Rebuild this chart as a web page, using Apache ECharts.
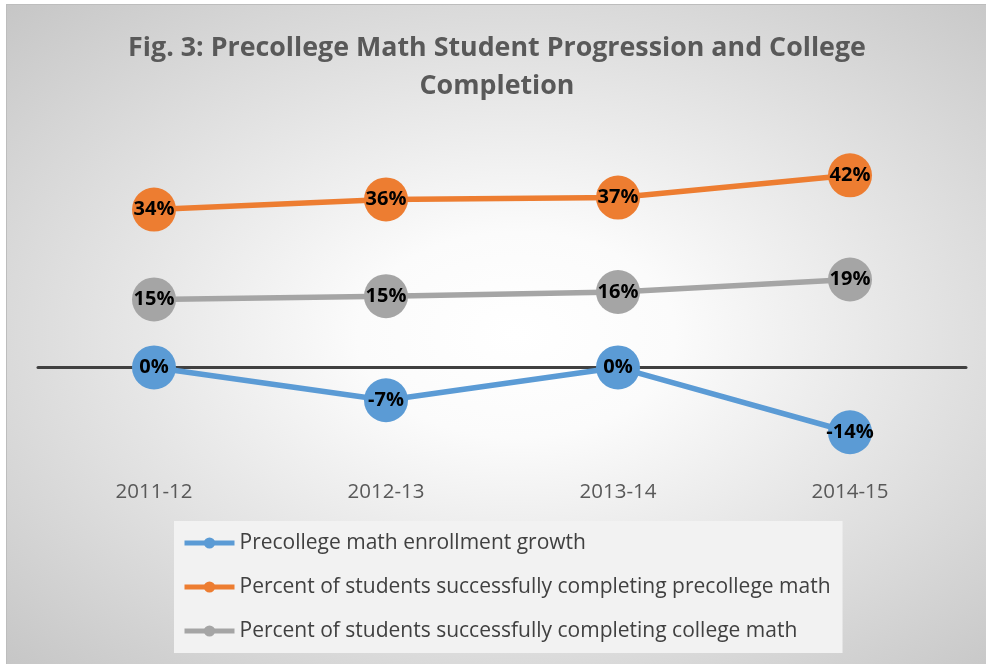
<!DOCTYPE html>
<html>
<head>
<meta charset="utf-8">
<script src="https://cdn.jsdelivr.net/npm/echarts@6/dist/echarts.min.js"></script>
<style>
  html, body { margin: 0; padding: 0; background: #fff; }
  #chart {
    position: absolute; left: 6px; top: 4px; width: 980px; height: 660px;
    border-left: 1px solid #bdbdbd; border-top: 1px solid #bdbdbd;
    background: radial-gradient(ellipse at 52% 50%, #ffffff 0%, #fbfbfb 22%, #c6c6c6 100%);
  }
</style>
</head>
<body>
<div id="chart"></div>
<script>
const years = ['2011-12', '2012-13', '2013-14', '2014-15'];
const enrollmentGrowth = [0, -7.1, 0, -14];
const precollegeComplete = [34.1, 36.3, 36.7, 41.5];
const collegeComplete = [14.7, 15.4, 16.3, 19];

const labelFont = 'Open Sans';

function lineSeries(name, data, color) {
  return {
    name,
    type: 'line',
    data,
    symbol: 'circle',
    symbolSize: 44,
    lineStyle: { color, width: 5.5 },
    itemStyle: { color },
    label: {
      show: true,
      position: 'inside',
      formatter: (p) => Math.round(p.value) + '%',
      color: '#000',
      fontFamily: labelFont,
      fontWeight: 'bold',
      fontSize: 20,
    },
  };
}

const chart = echarts.init(document.getElementById('chart'));
chart.setOption({
  backgroundColor: 'transparent',
  title: {
    text: 'Fig. 3: Precollege Math Student Progression and College\nCompletion',
    left: 'center',
    top: 24,
    padding: 0,
    textStyle: {
      color: '#595959',
      fontFamily: labelFont,
      fontWeight: 'bold',
      fontSize: 26.8,
      lineHeight: 38,
    },
  },
  grid: { left: 31, right: 21, top: 131, height: 324 },
  xAxis: [
    {
      type: 'category',
      data: years,
      axisLine: { show: false, onZero: false },
      axisTick: { show: false },
      axisLabel: { color: '#595959', fontFamily: labelFont, fontSize: 20.5, margin: 22 },
    },
    {
      type: 'category',
      data: years,
      position: 'bottom',
      axisLine: { show: true, onZero: true, lineStyle: { color: '#404040', width: 3 } },
      axisTick: { show: false },
      axisLabel: { show: false },
    },
  ],
  yAxis: {
    type: 'value',
    min: -20,
    max: 50,
    show: false,
    splitLine: { show: false },
  },
  legend: {
    orient: 'vertical',
    left: 167,
    top: 516,
    backgroundColor: '#f2f2f2',
    padding: [10, 12, 10, 8],
    itemWidth: 50,
    itemHeight: 14,
    itemGap: 20,
    lineStyle: { width: 5 },
    textStyle: { color: '#404040', fontFamily: labelFont, fontSize: 21, lineHeight: 24 },
    data: [
      'Precollege math enrollment growth',
      'Percent of students successfully completing precollege math',
      'Percent of students successfully completing college math',
    ],
  },
  series: [
    lineSeries('Precollege math enrollment growth', enrollmentGrowth, '#5b9bd5'),
    lineSeries('Percent of students successfully completing precollege math', precollegeComplete, '#ed7d31'),
    lineSeries('Percent of students successfully completing college math', collegeComplete, '#a5a5a5'),
  ],
});
</script>
</body>
</html>
